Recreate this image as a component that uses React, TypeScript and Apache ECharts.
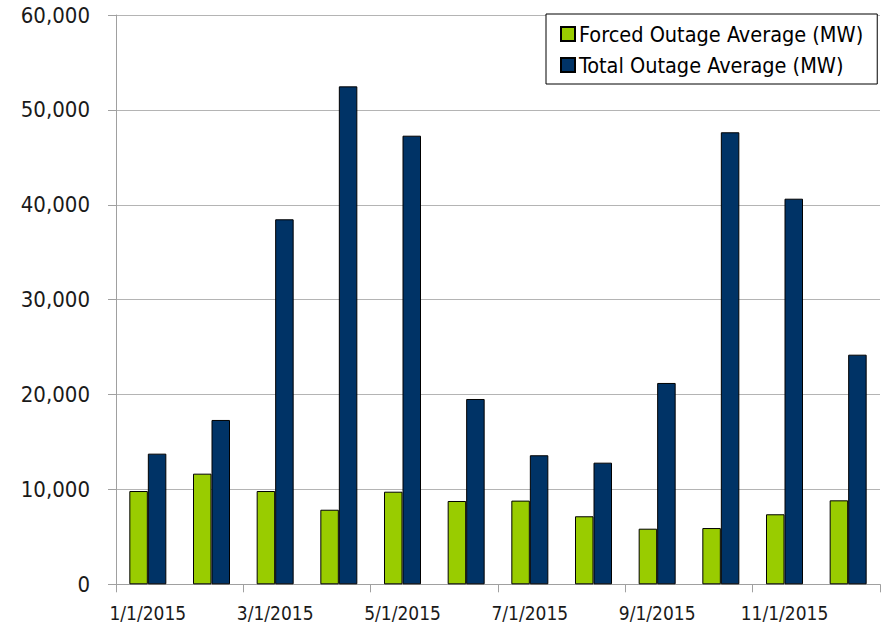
import React, { useEffect, useRef } from "react";
import * as echarts from "echarts";

const categories = [
  "1/1/2015", "2/1/2015", "3/1/2015", "4/1/2015", "5/1/2015", "6/1/2015",
  "7/1/2015", "8/1/2015", "9/1/2015", "10/1/2015", "11/1/2015", "12/1/2015",
];
const forcedOutage = [9830, 11660, 9830, 7860, 9760, 8780, 8820, 7170, 5860, 5930, 7380, 8850];
const totalOutage = [13770, 17320, 38470, 52480, 47280, 19530, 13600, 12820, 21220, 47640, 40640, 24200];
const yTicks = [0, 10000, 20000, 30000, 40000, 50000, 60000];

const FONT = "'Liberation Sans Narrow', 'Arial Narrow', 'DejaVu Sans Condensed', sans-serif";

export default function App() {
  const ref = useRef<HTMLDivElement>(null);
  useEffect(() => {
    document.body.style.margin = "0";
    const chart = echarts.init(ref.current!, undefined, { renderer: "svg" });
    chart.setOption({
      animation: false,
      backgroundColor: "#ffffff",
      grid: { left: 116, right: 5, top: 15, bottom: 42.7, containLabel: false },
      legend: {
        orient: "vertical",
        left: 546,
        top: 14,
        padding: [9, 14, 8, 14],
        itemGap: 9,
        itemWidth: 14,
        itemHeight: 14,
        backgroundColor: "#ffffff",
        borderColor: "#000000",
        borderWidth: 1,
        borderRadius: 0,
        textStyle: { fontFamily: FONT, fontSize: 21.5, color: "#000000", padding: [0, 0, 0, -1] },
        data: [
          { name: "Forced Outage Average (MW)", icon: "rect" },
          { name: "Total Outage Average (MW)", icon: "rect" },
        ],
      },
      xAxis: {
        type: "category",
        data: categories,
        boundaryGap: true,
        axisLine: { show: true, lineStyle: { color: "#a0a0a0", width: 1 } },
        axisTick: { show: true, interval: 1, length: 8, inside: false, lineStyle: { color: "#a0a0a0" } },
        axisLabel: {
          interval: 1,
          margin: 19,
          fontFamily: FONT,
          fontSize: 19,
          color: "#1a1a1a",
        },
        splitLine: { show: false },
      },
      yAxis: {
        type: "value",
        min: yTicks[0],
        max: yTicks[yTicks.length - 1],
        interval: 10000,
        axisLine: { show: true, lineStyle: { color: "#a0a0a0", width: 1 } },
        axisTick: { show: true, length: 8, lineStyle: { color: "#a0a0a0" } },
        axisLabel: {
          margin: 26,
          fontFamily: FONT,
          fontSize: 22,
          color: "#1a1a1a",
          formatter: (v: number) => v.toLocaleString("en-US"),
        },
        splitLine: { show: true, lineStyle: { color: "#b4b4b4", width: 1 } },
      },
      series: [
        {
          name: "Forced Outage Average (MW)",
          type: "bar",
          data: forcedOutage,
          barWidth: 18.5,
          barGap: "0%",
          itemStyle: { color: "#99cc00", borderColor: "#000000", borderWidth: 1 },
        },
        {
          name: "Total Outage Average (MW)",
          type: "bar",
          data: totalOutage,
          barWidth: 18.5,
          barGap: "0%",
          itemStyle: { color: "#003366", borderColor: "#000000", borderWidth: 1 },
        },
      ],
    });
    return () => chart.dispose();
  }, []);
  return <div ref={ref} style={{ width: 885, height: 627, position: "fixed", left: 0, top: 0 }} />;
}
